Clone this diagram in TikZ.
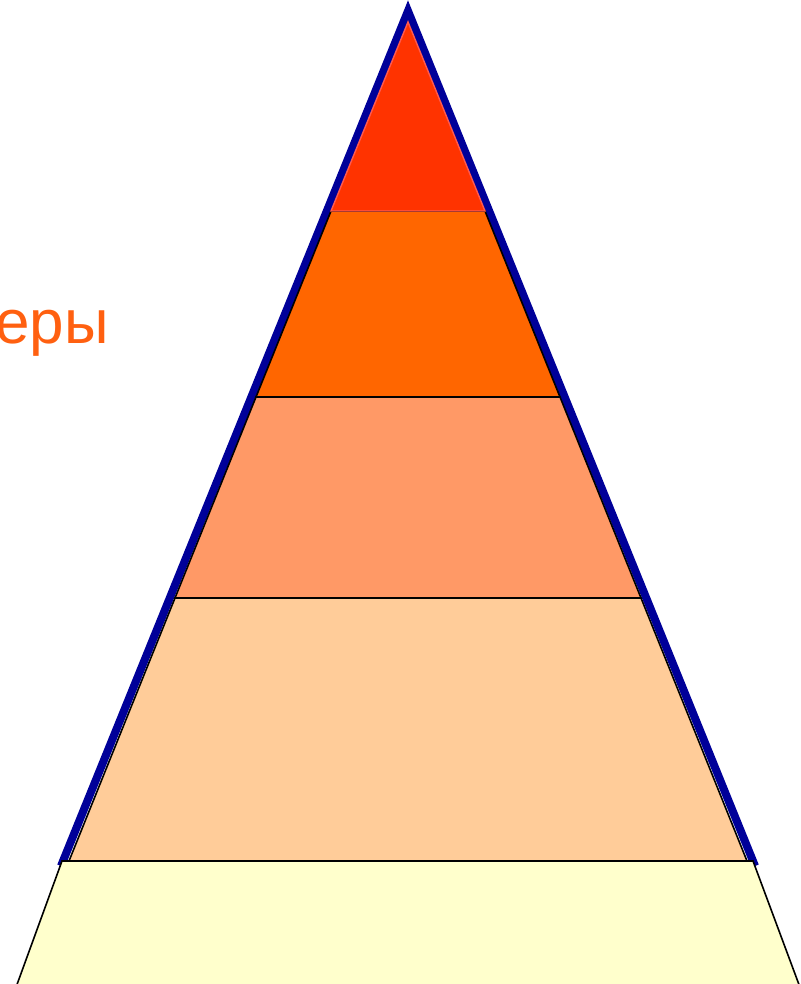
\documentclass[tikz,border=0pt]{standalone}
\usepackage{fontspec}
\setmainfont{Liberation Sans}
\usetikzlibrary{positioning, calc}

\definecolor{rimblue}{HTML}{000099}
\definecolor{topred}{HTML}{FF3300}
\definecolor{topedge}{HTML}{FF5A50}
\definecolor{lvlorange}{HTML}{FF6600}
\definecolor{lvlsalmon}{HTML}{FF9966}
\definecolor{lvlpeach}{HTML}{FFCC99}
\definecolor{lvlbase}{HTML}{FFFFCC}
\definecolor{labelorange}{HTML}{FF6010}

\begin{document}
\begin{tikzpicture}[
		x=1pt, y=-1pt,
		% Estilos de la piramide
		rim/.style = {draw=rimblue, line width=8pt, line cap=butt, line join=miter},
		level/.style = {draw=black, line width=1.6pt, line join=miter},
		toplevel/.style = {fill=topred, draw=topedge, line width=1.4pt, line join=miter},
		caption/.style = {text=labelorange, font=\fontsize{62}{66}\selectfont, inner sep=0pt, anchor=base west}
		]
		
		\useasboundingbox (0,0) rectangle (800,984);
		
		% --- CONTORNO AZUL ---
		\coordinate (rim_l) at (61,866);
		\coordinate (rim_t) at (408,11);
		\coordinate (rim_r) at (755,866);
		\draw [rim] (rim_l) -- (rim_t) -- (rim_r);
		
		% --- BORDES DE LOS NIVELES ---
		\coordinate (apex) at (408,22);
		\coordinate (l1) at (331,211);   \coordinate (r1) at (485,211);
		\coordinate (l2) at (256,397);   \coordinate (r2) at (560,397);
		\coordinate (l3) at (175,598);   \coordinate (r3) at (641,598);
		\coordinate (l4) at (69,861);    \coordinate (r4) at (747,861);
		
		% Niveles
		\filldraw [level, fill=lvlpeach] (l3) -- (r3) -- (r4) -- (l4) -- cycle;
		\filldraw [level, fill=lvlsalmon] (l2) -- (r2) -- (r3) -- (l3) -- cycle;
		\filldraw [level, fill=lvlorange] (l1) -- (r1) -- (r2) -- (l2) -- cycle;
		\filldraw [toplevel] (apex) -- (r1) -- (l1) -- cycle;
		
		% Base (sale del cuadro)
		\coordinate (b_tl) at (62,861);
		\coordinate (b_tr) at (753,861);
		\coordinate (b_bl) at (15,990);
		\coordinate (b_br) at (801,990);
		\filldraw [level, fill=lvlbase] (b_bl) -- (b_tl) -- (b_tr) -- (b_br);
		
		% Texto cortado a la izquierda
		\node [caption] (label) at (-5,343) {еры};
		
	\end{tikzpicture}
\end{document}
